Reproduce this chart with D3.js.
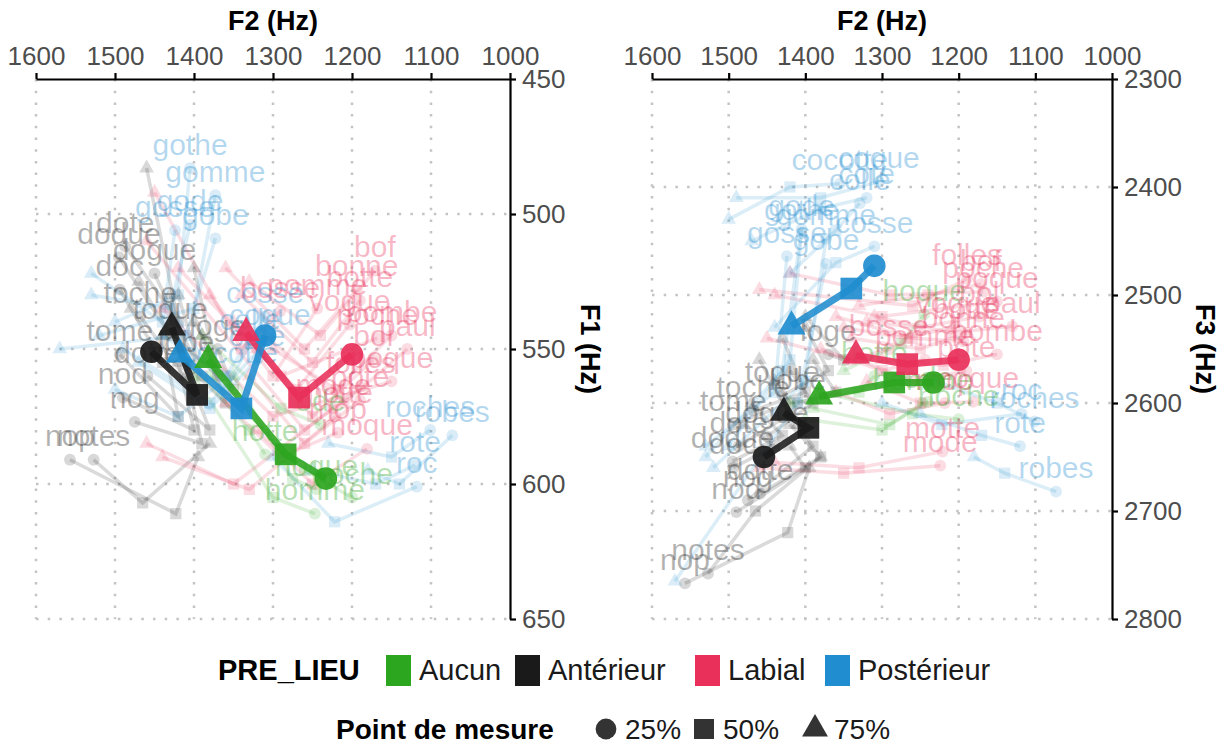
<!DOCTYPE html>
<html>
<head>
<meta charset="utf-8">
<script src="https://cdn.jsdelivr.net/npm/d3@7"></script>
<style>
  body { margin: 0; background: #fff; }
  svg { font-family: "Liberation Sans", Arial, sans-serif; }
</style>
</head>
<body>
<svg id="chart" width="1230" height="747"></svg>
<script>
// Categories and measurement points
const categories = ['Aucun', 'Antérieur', 'Labial', 'Postérieur'];
const colors = ['#2ca51f', '#1a1a1a', '#e8305a', '#1f8dcf'];
const stages = ['25%', '50%', '75%'];

const f2Ticks = [1600, 1500, 1400, 1300, 1200, 1100, 1000];
const f1Ticks = [450, 500, 550, 600, 650];
const f3Ticks = [2300, 2400, 2500, 2600, 2700, 2800];

// Category means at 25 / 50 / 75 %
const meanF2 = [[1233, 1284, 1382], [1454, 1396, 1428], [1200, 1267, 1334], [1310, 1340, 1418]];
const meanF1 = [[598, 589, 554], [551, 567, 542], [552, 568, 544], [545, 572, 552]];
const meanF3 = [[2581, 2581, 2594], [2650, 2623, 2609], [2560, 2564, 2556], [2473, 2494, 2529]];

// Individual words (category index, then values at 25 / 50 / 75 %)
const words = [
  'ode', 'hotte', 'hoque', 'homme', 'hoche',
  'dote', 'dodue', 'dogue', 'doc', 'toche', 'toque', 'tome', 'nod', 'nog', 'notes', 'nop', 'loge', 'dotte', 'lobe',
  'bof', 'bonne', 'botte', 'pomme', 'vogue', 'paul', 'bol', 'poche', 'poque', 'folles', 'pote', 'mop', 'moque', 'motte', 'mode', 'bosse', 'bombe',
  'gothe', 'gomme', 'gode', 'gobe', 'gosse', 'cosse', 'coque', 'cocotte', 'cote', 'colle', 'roches', 'robes', 'rote', 'roc'
];
const wordCat = [
  0, 0, 0, 0, 0,
  1, 1, 1, 1, 1, 1, 1, 1, 1, 1, 1, 1, 1, 1,
  2, 2, 2, 2, 2, 2, 2, 2, 2, 2, 2, 2, 2, 2, 2, 2, 2,
  3, 3, 3, 3, 3, 3, 3, 3, 3, 3, 3, 3, 3, 3
];
const wordF2 = [
  [1240, 1290, 1390], [1310, 1330, 1420], [1245, 1275, 1350], [1247, 1300, 1400], [1200, 1260, 1380],
  [1487, 1420, 1460], [1495, 1430, 1470], [1450, 1390, 1420], [1494, 1440, 1480], [1468, 1400, 1430],
  [1430, 1370, 1400], [1494, 1420, 1440], [1490, 1400, 1420], [1475, 1390, 1410], [1527, 1465, 1380],
  [1557, 1423, 1395], [1370, 1350, 1400], [1459, 1380, 1420], [1410, 1360, 1390],
  [1171, 1240, 1330], [1194, 1260, 1360], [1190, 1250, 1340], [1244, 1300, 1380], [1203, 1270, 1350],
  [1130, 1210, 1310], [1173, 1250, 1320], [1168, 1290, 1420], [1150, 1300, 1440], [1189, 1260, 1460],
  [1190, 1260, 1330], [1218, 1290, 1360], [1181, 1250, 1320], [1221, 1330, 1440], [1224, 1350, 1460],
  [1291, 1340, 1450], [1150, 1220, 1300],
  [1405, 1420, 1500], [1373, 1400, 1520], [1405, 1430, 1530], [1373, 1410, 1570], [1424, 1440, 1530],
  [1310, 1360, 1440], [1304, 1380, 1490], [1355, 1420, 1500], [1320, 1380, 1470], [1329, 1360, 1420],
  [1101, 1150, 1230], [1073, 1140, 1180], [1120, 1170, 1250], [1118, 1222, 1300]
];
const wordF1 = [
  [578, 572, 545], [589, 580, 550], [602, 598, 560], [611, 605, 560], [605, 595, 560],
  [512, 540, 483], [516, 545, 525], [522, 560, 530], [528, 555, 535], [538, 565, 530],
  [544, 560, 520], [552, 575, 545], [568, 580, 555], [577, 585, 560], [591, 607, 585],
  [591, 611, 590], [550, 565, 540], [560, 580, 550], [556, 570, 545],
  [521, 545, 525], [528, 550, 520], [532, 555, 530], [535, 560, 530], [541, 565, 540],
  [550, 570, 545], [554, 575, 550], [546, 560, 520], [562, 575, 535], [564, 580, 510],
  [569, 585, 560], [581, 590, 570], [587, 600, 580], [575, 602, 590], [572, 600, 585],
  [536, 550, 492], [545, 565, 550],
  [483, 530, 540], [493, 535, 545], [504, 535, 530], [509, 545, 550], [506, 540, 522],
  [538, 560, 545], [546, 570, 550], [560, 575, 565], [554, 572, 555], [548, 565, 540],
  [580, 590, 585], [582, 600, 595], [593, 600, 595], [601, 614, 590]
];
const wordF3 = [
  [2599, 2620, 2605], [2575, 2590, 2600], [2518, 2545, 2570], [2600, 2625, 2615], [2615, 2610, 2590],
  [2640, 2610, 2560], [2654, 2630, 2600], [2631, 2600, 2570], [2660, 2640, 2620], [2607, 2590, 2540],
  [2593, 2570, 2530], [2620, 2600, 2580], [2701, 2660, 2640], [2690, 2640, 2620], [2758, 2700, 2650],
  [2767, 2720, 2660], [2555, 2560, 2520], [2684, 2650, 2620], [2600, 2590, 2560],
  [2490, 2500, 2510], [2543, 2540, 2520], [2535, 2550, 2540], [2560, 2570, 2550], [2529, 2540, 2530],
  [2529, 2535, 2520], [2520, 2530, 2525], [2497, 2500, 2480], [2506, 2520, 2500], [2485, 2510, 2495],
  [2570, 2580, 2560], [2600, 2610, 2590], [2599, 2600, 2580], [2645, 2660, 2655], [2658, 2665, 2660],
  [2550, 2560, 2540], [2555, 2565, 2560],
  [2443, 2560, 2640], [2448, 2580, 2660], [2439, 2570, 2650], [2471, 2600, 2765], [2464, 2590, 2640],
  [2455, 2470, 2530], [2395, 2410, 2410], [2397, 2400, 2430], [2410, 2420, 2450], [2415, 2440, 2480],
  [2617, 2600, 2580], [2682, 2665, 2650], [2640, 2630, 2610], [2610, 2620, 2600]
];

const svg = d3.select('#chart');
const shapes = [d3.symbolCircle, d3.symbolSquare, d3.symbolTriangle];
const smallSize = [110, 125, 95];
const bigSize = [400, 470, 340];

const panels = [
  { x0: 36, x1: 510, yDomain: [450, 650], yTicks: f1Ticks, yWord: wordF1, yMean: meanF1, title: 'F1 (Hz)', titleX: 590 },
  { x0: 652, x1: 1112, yDomain: [2300, 2800], yTicks: f3Ticks, yWord: wordF3, yMean: meanF3, title: 'F3 (Hz)', titleX: 1205 }
];
const plotTop = 79, plotBottom = 619;

panels.forEach((p, pi) => {
  const x = d3.scaleLinear().domain([1600, 1000]).range([p.x0, p.x1]);
  const y = d3.scaleLinear().domain(p.yDomain).range([plotTop, plotBottom]);
  const g = svg.append('g');

  g.append('clipPath').attr('id', 'clip' + pi)
    .append('rect').attr('x', p.x0).attr('y', plotTop)
    .attr('width', p.x1 - p.x0).attr('height', plotBottom - plotTop);

  // Dotted grid
  const grid = g.append('g')
    .attr('stroke', '#c4c4c4').attr('stroke-width', 2.5)
    .attr('stroke-dasharray', '2.5 9.2');
  grid.selectAll('.vg').data(f2Ticks.slice(0, -1)).enter().append('line')
    .attr('x1', d => x(d)).attr('x2', d => x(d))
    .attr('y1', plotTop).attr('y2', plotBottom);
  grid.selectAll('.hg').data(p.yTicks.slice(1)).enter().append('line')
    .attr('x1', p.x0).attr('x2', p.x1)
    .attr('y1', d => y(d)).attr('y2', d => y(d));

  const plot = g.append('g').attr('clip-path', `url(#clip${pi})`);

  // Word trajectories
  const line = d3.line();
  plot.selectAll('.wl').data(words).enter().append('path')
    .attr('d', (w, i) => line(stages.map((s, k) => [x(wordF2[i][k]), y(p.yWord[i][k])])))
    .attr('fill', 'none')
    .attr('stroke', (w, i) => colors[wordCat[i]])
    .attr('stroke-width', 3.5)
    .attr('stroke-opacity', 0.16);

  stages.forEach((s, k) => {
    plot.selectAll('.wp' + k).data(words).enter().append('path')
      .attr('d', d3.symbol().type(shapes[k]).size(smallSize[k]))
      .attr('transform', (w, i) => `translate(${x(wordF2[i][k])},${y(p.yWord[i][k])})`)
      .attr('fill', (w, i) => colors[wordCat[i]])
      .attr('fill-opacity', 0.17);
  });

  plot.selectAll('.wt').data(words).enter().append('text')
    .attr('x', (w, i) => x(wordF2[i][0]))
    .attr('y', (w, i) => y(p.yWord[i][0]) - 24)
    .attr('dy', '0.35em')
    .attr('text-anchor', 'middle')
    .attr('font-size', 30)
    .attr('fill', (w, i) => colors[wordCat[i]])
    .attr('fill-opacity', 0.34)
    .text(w => w);

  // Category means
  plot.selectAll('.ml').data(categories).enter().append('path')
    .attr('d', (c, ci) => line(stages.map((s, k) => [x(meanF2[ci][k]), y(p.yMean[ci][k])])))
    .attr('fill', 'none')
    .attr('stroke', (c, ci) => colors[ci])
    .attr('stroke-width', 7)
    .attr('stroke-opacity', 0.88);

  stages.forEach((s, k) => {
    plot.selectAll('.mp' + k).data(categories).enter().append('path')
      .attr('d', d3.symbol().type(shapes[k]).size(bigSize[k]))
      .attr('transform', (c, ci) => `translate(${x(meanF2[ci][k])},${y(p.yMean[ci][k])})`)
      .attr('fill', (c, ci) => colors[ci])
      .attr('fill-opacity', 0.92);
  });

  // Axes
  const xAxis = g.append('g').attr('transform', `translate(0,${plotTop})`)
    .call(d3.axisTop(x).tickValues(f2Ticks).tickFormat(d3.format('d')).tickSizeOuter(0).tickSizeInner(6).tickPadding(8));
  const yAxis = g.append('g').attr('transform', `translate(${p.x1},0)`)
    .call(d3.axisRight(y).tickValues(p.yTicks).tickFormat(d3.format('d')).tickSizeOuter(0).tickSizeInner(6).tickPadding(6));
  [xAxis, yAxis].forEach(a => {
    a.select('.domain').attr('stroke', '#000').attr('stroke-width', 2.2);
    a.selectAll('.tick line').attr('stroke', '#000').attr('stroke-width', 2.2);
    a.selectAll('.tick text').attr('fill', '#4d4d4d').attr('font-size', 26)
      .attr('font-family', '"Liberation Sans", Arial, sans-serif');
  });

  g.append('text')
    .attr('x', (p.x0 + p.x1) / 2).attr('y', 21).attr('dy', '0.35em')
    .attr('text-anchor', 'middle').attr('font-size', 27).attr('font-weight', 'bold')
    .text('F2 (Hz)');
  g.append('text')
    .attr('transform', `translate(${p.titleX},${(plotTop + plotBottom) / 2}) rotate(90)`)
    .attr('dy', '0.35em')
    .attr('text-anchor', 'middle').attr('font-size', 27).attr('font-weight', 'bold')
    .text(p.title);
});

// Legend: colours
const leg1 = svg.append('g').attr('font-size', 29);
leg1.append('text').attr('x', 218).attr('y', 670).attr('dy', '0.35em')
  .attr('font-weight', 'bold').text('PRE_LIEU');
const keyX = [386, 515, 695, 825];
categories.forEach((c, ci) => {
  leg1.append('rect').attr('x', keyX[ci]).attr('y', 655).attr('width', 25).attr('height', 31)
    .attr('fill', colors[ci]);
  leg1.append('text').attr('x', keyX[ci] + 33).attr('y', 670).attr('dy', '0.35em')
    .attr('fill', '#1a1a1a').text(c);
});

// Legend: shapes
const legY = 729;
const leg2 = svg.append('g').attr('font-size', 28);
leg2.append('text').attr('x', 336).attr('y', legY).attr('dy', '0.35em')
  .attr('font-weight', 'bold').text('Point de mesure');
const shapeX = [606, 704, 815];
stages.forEach((s, k) => {
  leg2.append('path')
    .attr('d', d3.symbol().type(shapes[k]).size(bigSize[k] * 0.85))
    .attr('transform', `translate(${shapeX[k]},${legY})`)
    .attr('fill', '#333');
  leg2.append('text').attr('x', shapeX[k] + 19).attr('y', legY).attr('dy', '0.35em')
    .attr('fill', '#1a1a1a').text(s);
});
</script>
</body>
</html>
